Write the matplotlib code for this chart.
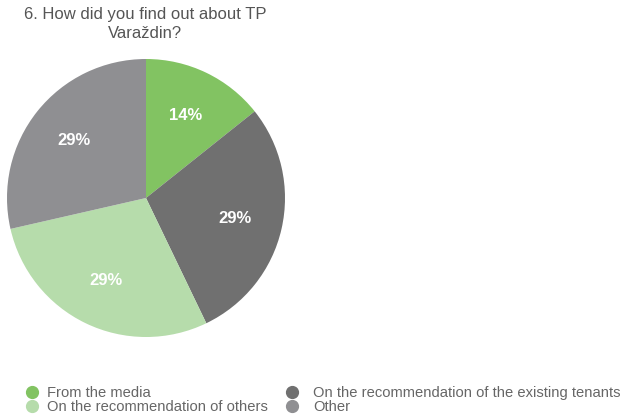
import matplotlib
matplotlib.use("Agg")
import matplotlib.pyplot as plt
from matplotlib.lines import Line2D

categories = ["From the media", "On the recommendation of the existing tenants",
              "On the recommendation of others", "Other"]
values = [1, 2, 2, 2]
colors = ["#82c362", "#707070", "#b6dcab", "#8f8f92"]

plt.rcParams['font.family'] = ['Liberation Sans', 'DejaVu Sans']

fig = plt.figure(figsize=(6.24, 4.17), dpi=100)
ax = fig.add_axes([7/624, (417-337)/417, 278/624, 278/417])
wedges, texts, autotexts = ax.pie(values, colors=colors, startangle=90, counterclock=False,
                                  autopct='%.0f%%', pctdistance=0.66, radius=1,
                                  wedgeprops=dict(linewidth=0))
for t in autotexts:
    t.set_color('white')
    t.set_fontsize(12)
    t.set_fontweight('bold')
ax.set_xlim(-1, 1)
ax.set_ylim(-1, 1)
ax.set_aspect('equal')
ax.axis('off')

fig.text(145/624, 1 - 24/417, "6. How did you find out about TP\nVaraždin?", ha='center', va='center',
         fontsize=12, color='#555555', linespacing=1.4)


def make_legend(idx, x0, pad):
    h = [Line2D([], [], marker='o', linestyle='', markersize=8.5, color=colors[i]) for i in idx]
    lab = [categories[i] for i in idx]
    leg = fig.legend(h, lab, loc='upper left', bbox_to_anchor=(x0/624, 1 - 386/417), ncol=1,
                     frameon=False, fontsize=10.6, labelcolor='#666666', handletextpad=pad,
                     labelspacing=0.0, borderpad=0, borderaxespad=0, handlelength=1.0)
    return leg


make_legend([0, 2], 25, 0.49)
make_legend([1, 3], 285, 0.91)

fig.savefig("out.png", dpi=100)
